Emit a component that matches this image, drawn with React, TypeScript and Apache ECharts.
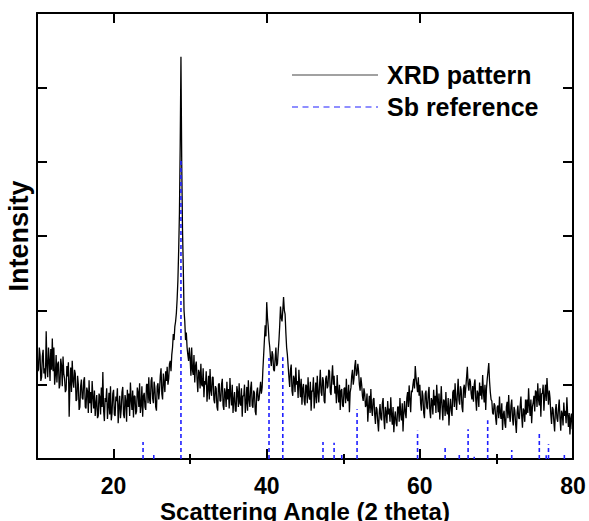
import React, { useEffect, useRef } from "react";
import * as echarts from "echarts";

// XRD measurement grid
const ANGLE_START = 10;
const ANGLE_STEP = 0.1;

// XRD intensity (arbitrary units), one value per 0.1 deg from 10 to 80
const xrdIntensity = [
  155, 118, 120, 150, 140, 105, 110, 138, 147, 115, // 10
  122, 108, 172, 125, 110, 150, 133, 105, 148, 120, // 11
  162, 118, 150, 100, 113, 140, 103, 128, 131, 95, // 12
  100, 135, 126, 98, 138, 115, 108, 90, 93, 125, // 13
  111, 130, 57, 100, 123, 90, 132, 105, 96, 120, // 14
  115, 78, 80, 112, 100, 66, 70, 98, 107, 82, // 15
  80, 105, 110, 70, 68, 96, 91, 62, 106, 75, // 16
  90, 62, 105, 84, 68, 92, 58, 75, 86, 55, // 17
  58, 88, 84, 60, 96, 70, 117, 65, 51, 82, // 18
  77, 95, 54, 70, 89, 60, 98, 52, 62, 88, // 19
  93, 60, 58, 84, 78, 95, 48, 70, 85, 55, // 20
  67, 90, 97, 60, 55, 86, 78, 50, 93, 70, // 21
  88, 58, 103, 80, 66, 92, 56, 85, 84, 60, // 22
  64, 96, 90, 70, 102, 62, 72, 98, 57, 85, // 23
  89, 70, 66, 100, 101, 75, 110, 80, 74, 105, // 24
  110, 82, 75, 104, 95, 70, 65, 98, 102, 80, // 25
  92, 112, 122, 88, 80, 115, 103, 90, 118, 105, // 26
  124, 100, 108, 128, 132, 118, 140, 150, 168, 160, // 27
  178, 185, 196, 215, 240, 280, 330, 420, 541, 400, // 28
  310, 260, 200, 185, 160, 170, 150, 140, 132, 150, // 29
  135, 112, 150, 120, 113, 140, 103, 125, 131, 108, // 30
  90, 120, 116, 95, 128, 100, 98, 122, 83, 105, // 31
  100, 118, 77, 95, 112, 80, 121, 92, 85, 110, // 32
  110, 80, 75, 98, 95, 70, 65, 100, 102, 78, // 33
  78, 100, 108, 72, 66, 95, 89, 70, 104, 80, // 34
  94, 68, 109, 86, 72, 100, 62, 80, 90, 65, // 35
  64, 98, 90, 70, 102, 75, 72, 95, 57, 85, // 36
  85, 100, 62, 75, 97, 65, 106, 80, 70, 95, // 37
  104, 72, 69, 92, 89, 64, 59, 90, 96, 78, // 38
  80, 92, 104, 88, 96, 120, 140, 160, 180, 165, // 39
  211, 190, 178, 160, 150, 135, 125, 145, 140, 120, // 40
  118, 135, 150, 125, 128, 145, 160, 180, 205, 190, // 41
  185, 200, 218, 200, 195, 170, 150, 140, 125, 110, // 42
  97, 120, 127, 92, 85, 112, 108, 90, 123, 100, // 43
  105, 82, 120, 100, 83, 108, 73, 95, 101, 78, // 44
  72, 100, 98, 75, 110, 85, 80, 104, 65, 92, // 45
  91, 110, 68, 85, 103, 75, 112, 90, 76, 100, // 46
  120, 90, 85, 110, 105, 78, 75, 108, 112, 95, // 47
  98, 120, 118, 90, 86, 110, 126, 100, 112, 88, // 48
  98, 75, 113, 90, 76, 100, 66, 92, 94, 72, // 49
  70, 95, 96, 75, 108, 82, 78, 100, 63, 90, // 50
  96, 112, 120, 100, 108, 125, 133, 112, 115, 128, // 51
  118, 100, 92, 110, 100, 85, 78, 95, 88, 70, // 52
  73, 88, 50, 70, 85, 62, 94, 68, 58, 80, // 53
  82, 60, 47, 70, 67, 50, 37, 62, 74, 55, // 54
  52, 75, 82, 55, 40, 70, 63, 48, 78, 60, // 55
  68, 50, 83, 60, 46, 70, 36, 55, 64, 48, // 56
  44, 70, 70, 50, 82, 60, 52, 75, 37, 62, // 57
  78, 62, 55, 82, 90, 70, 99, 80, 63, 92, // 58
  90, 100, 108, 95, 125, 110, 100, 90, 110, 85, // 59
  100, 75, 65, 92, 85, 62, 55, 88, 92, 70, // 60
  67, 88, 97, 65, 55, 82, 78, 60, 93, 72, // 61
  85, 62, 100, 80, 63, 88, 53, 75, 98, 70, // 62
  52, 80, 78, 58, 90, 65, 60, 82, 45, 68, // 63
  81, 65, 58, 90, 93, 70, 102, 80, 66, 88, // 64
  108, 80, 73, 98, 93, 70, 63, 95, 100, 82, // 65
  96, 110, 124, 100, 92, 108, 104, 88, 80, 98, // 66
  77, 100, 107, 80, 65, 92, 88, 70, 103, 85, // 67
  98, 80, 113, 90, 76, 100, 66, 95, 108, 118, // 68
  129, 105, 90, 80, 78, 62, 60, 75, 72, 55, // 69
  46, 70, 72, 55, 84, 62, 54, 75, 39, 60, // 70
  65, 48, 42, 70, 77, 55, 86, 60, 50, 72, // 71
  80, 55, 45, 70, 65, 48, 35, 62, 72, 55, // 72
  54, 72, 84, 58, 42, 68, 65, 50, 80, 60, // 73
  80, 62, 95, 72, 58, 80, 48, 70, 76, 85, // 74
  64, 92, 90, 70, 102, 80, 72, 95, 57, 88, // 75
  88, 100, 65, 85, 100, 78, 109, 90, 73, 92, // 76
  82, 60, 47, 70, 67, 50, 37, 65, 74, 55, // 77
  50, 68, 80, 55, 38, 65, 61, 45, 76, 58, // 78
  65, 48, 83, 60, 43, 62, 33, 55, 61, 40, // 79
  45, // 80
];

// Sb reference pattern: peak positions (2 theta) and relative heights
const sbAngles = [
  23.85, 25.25, 28.8, 40.3, 42.1, 47.35, 48.8, 49.8, 51.8, 59.7, 63.3, 65.15,
  66.3, 67.1, 68.86, 72.0, 75.6, 76.5, 76.8, 78.87,
];
const sbHeights = [
  23, 8, 401, 136, 137, 23, 22, 8, 67, 38, 17, 9, 40, 3, 52, 12, 34, 5, 20, 9,
];

const xMajorTicks = [20, 40, 60, 80];
const xMinorTicks = [30, 50, 70];
const seriesNames = ["XRD pattern", "Sb reference"];

const FONT = '"Liberation Sans", Arial, Helvetica, sans-serif';
const BLUE = "#1f1fff";

export default function App() {
  const ref = useRef<HTMLDivElement>(null);

  useEffect(() => {
    if (!ref.current) return;
    document.body.style.margin = "0";
    const chart = echarts.init(ref.current, null, { renderer: "svg" });

    const xrdData = xrdIntensity.map((v, i) => [
      Math.round((ANGLE_START + i * ANGLE_STEP) * 100) / 100,
      v,
    ]);
    const sbData = sbAngles.map((a, i) => [a, sbHeights[i]]);

    const axisLineStyle = { color: "#000", width: 2 };
    const tickLine = { color: "#000", width: 2 };

    const xBase = {
      type: "value",
      min: 10,
      max: 80,
      splitLine: { show: false },
    };

    const option: any = {
      animation: false,
      grid: {
        left: 37,
        top: 13,
        width: 536,
        height: 446,
        containLabel: false,
        outerBoundsMode: "none",
      },
      xAxis: [
        {
          ...xBase,
          position: "bottom",
          axisLine: { show: true, onZero: false, lineStyle: axisLineStyle },
          axisTick: {
            show: true,
            inside: true,
            length: 10,
            lineStyle: tickLine,
            customValues: xMajorTicks,
          },
          axisLabel: {
            show: true,
            customValues: xMajorTicks,
            margin: 19,
            lineHeight: 16,
            color: "#000",
            fontSize: 23,
            fontWeight: "bold",
            fontFamily: FONT,
          },
          name: "Scattering Angle (2 theta)",
          nameLocation: "middle",
          nameGap: 43,
          nameMoveOverlap: false,
          nameTextStyle: {
            color: "#000",
            fontSize: 24,
            lineHeight: 18,
            fontWeight: "bold",
            fontFamily: FONT,
          },
        },
        {
          ...xBase,
          position: "bottom",
          axisLine: { show: false },
          axisTick: {
            show: true,
            inside: true,
            length: 5,
            lineStyle: tickLine,
            customValues: xMinorTicks,
          },
          axisLabel: { show: false },
        },
        {
          ...xBase,
          position: "top",
          axisLine: { show: true, onZero: false, lineStyle: axisLineStyle },
          axisTick: {
            show: true,
            inside: true,
            length: 10,
            lineStyle: tickLine,
            customValues: xMajorTicks,
          },
          axisLabel: { show: false },
        },
        {
          ...xBase,
          position: "top",
          axisLine: { show: false },
          axisTick: {
            show: true,
            inside: true,
            length: 5,
            lineStyle: tickLine,
            customValues: xMinorTicks,
          },
          axisLabel: { show: false },
        },
      ],
      yAxis: [
        {
          type: "value",
          min: 0,
          max: 600,
          interval: 100,
          position: "left",
          axisLine: { show: true, onZero: false, lineStyle: axisLineStyle },
          axisTick: { show: true, inside: true, length: 10, lineStyle: tickLine },
          axisLabel: { show: false },
          splitLine: { show: false },
          name: "Intensity",
          nameLocation: "middle",
          nameRotate: 90,
          nameGap: 5,
          nameMoveOverlap: false,
          nameTextStyle: {
            color: "#000",
            fontSize: 27,
            fontWeight: "bold",
            fontFamily: FONT,
          },
        },
        {
          type: "value",
          min: 0,
          max: 600,
          interval: 100,
          position: "right",
          axisLine: { show: true, onZero: false, lineStyle: axisLineStyle },
          axisTick: { show: true, inside: true, length: 10, lineStyle: tickLine },
          axisLabel: { show: false },
          splitLine: { show: false },
        },
      ],
      series: [
        {
          name: seriesNames[1],
          type: "custom",
          xAxisIndex: 0,
          yAxisIndex: 0,
          data: sbData,
          encode: { x: 0, y: 1 },
          renderItem: (params: any, api: any) => {
            const x = api.value(0);
            const h = api.value(1);
            const p0 = api.coord([x, 0]);
            const p1 = api.coord([x, h]);
            return {
              type: "line",
              shape: { x1: p0[0], y1: p0[1], x2: p1[0], y2: p1[1] },
              style: { stroke: BLUE, lineWidth: 1.6, lineDash: [4, 3] },
            };
          },
          z: 3,
        },
        {
          name: seriesNames[0],
          type: "line",
          xAxisIndex: 0,
          yAxisIndex: 0,
          data: xrdData,
          showSymbol: false,
          symbol: "none",
          lineStyle: { color: "#000", width: 1.3 },
          z: 2,
        },
      ],
      graphic: [
        {
          type: "line",
          shape: { x1: 292, y1: 75, x2: 378, y2: 75 },
          style: { stroke: "#444", lineWidth: 1.2 },
        },
        {
          type: "text",
          x: 387,
          y: 75,
          style: {
            text: seriesNames[0],
            font: `bold 25px ${FONT}`,
            fill: "#000",
            textVerticalAlign: "middle",
            verticalAlign: "middle",
          },
        },
        {
          type: "line",
          shape: { x1: 292, y1: 107, x2: 378, y2: 107 },
          style: { stroke: BLUE, lineWidth: 1.2, lineDash: [6, 4.5] },
        },
        {
          type: "text",
          x: 387,
          y: 107,
          style: {
            text: seriesNames[1],
            font: `bold 25px ${FONT}`,
            fill: "#000",
            textVerticalAlign: "middle",
            verticalAlign: "middle",
          },
        },
      ],
    };

    chart.setOption(option);
    return () => {
      chart.dispose();
    };
  }, []);

  return (
    <div
      ref={ref}
      style={{ position: "absolute", left: 0, top: 0, width: 589, height: 521 }}
    />
  );
}
